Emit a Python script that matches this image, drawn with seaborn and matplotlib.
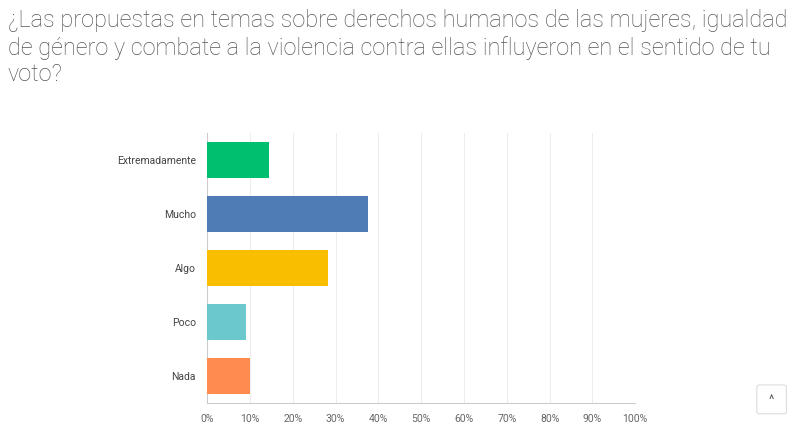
import pandas as pd
import seaborn as sns
import matplotlib.pyplot as plt
from matplotlib.patches import FancyBboxPatch

categories = ['Extremadamente', 'Mucho', 'Algo', 'Poco', 'Nada']
percent = [14.5, 37.5, 28.3, 9.0, 9.9]
colors = ['#00bf6f', '#507cb6', '#f9be00', '#6bc8cd', '#ff8b4f']
xticks = list(range(0, 101, 10))
xtick_labels = [f'{t}%' for t in xticks]

title = ('¿Las propuestas en temas sobre derechos humanos de las mujeres, igualdad\n'
         'de género y combate a la violencia contra ellas influyeron en el sentido de tu\n'
         'voto?')

sns.set_theme(style='white')
plt.rcParams['font.family'] = ['Roboto', 'DejaVu Sans']

df = pd.DataFrame({'respuesta': categories, 'pct': percent})

fig = plt.figure(figsize=(8, 4.45), dpi=100)
ax = fig.add_axes([0.259, 0.0944, 0.535, 0.607])

sns.barplot(data=df, y='respuesta', x='pct', hue='respuesta', palette=colors,
            order=categories, legend=False, width=0.66, saturation=1, ax=ax,
            linewidth=0, zorder=3)

ax.set_xlim(0, 100)
ax.set_ylim(4.5, -0.5)
ax.set_xticks(xticks)
ax.set_xticklabels(xtick_labels)
ax.set_xlabel('')
ax.set_ylabel('')
ax.grid(axis='x', color='#ededed', linewidth=0.8, zorder=0)
ax.tick_params(axis='x', labelsize=7.5, labelcolor='#666666', length=0, pad=8)
ax.tick_params(axis='y', labelsize=7.5, labelcolor='#444444', length=0, pad=8)
for side in ['top', 'right']:
    ax.spines[side].set_visible(False)
for side in ['left', 'bottom']:
    ax.spines[side].set_color('#cccccc')
    ax.spines[side].set_linewidth(0.8)

fig.text(0.01, 0.98, title, ha='left', va='top', fontsize=16.9,
         color='#555555', linespacing=1.2, fontweight='light')

# scroll-to-top button
btn = FancyBboxPatch((0.946, 0.07), 0.037, 0.065, boxstyle='round,pad=0,rounding_size=0.004',
                     transform=fig.transFigure, facecolor='white', edgecolor='#dddddd',
                     linewidth=0.8)
fig.patches.append(btn)
fig.text(0.9645, 0.1, '^', ha='center', va='center', fontsize=9, color='#555555')

fig.savefig('out.png', dpi=100)
